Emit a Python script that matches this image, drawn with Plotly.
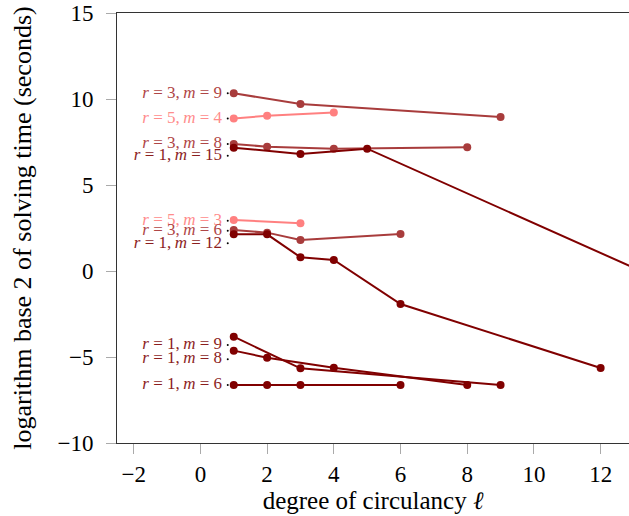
import plotly.graph_objects as go

# ---- data ----
series_names = ["r3m9", "r5m4", "r3m8", "r1m15", "r5m3", "r3m6", "r1m12", "r1m9", "r1m8", "r1m6"]
series_r = [3, 5, 3, 1, 5, 3, 1, 1, 1, 1]
series_m = [9, 4, 8, 15, 3, 6, 12, 9, 8, 6]
x_r3m9 = [1, 3, 9];            y_r3m9 = [10.33, 9.71, 8.95]
x_r5m4 = [1, 2, 4];            y_r5m4 = [8.86, 9.03, 9.22]
x_r3m8 = [1, 2, 4, 8];         y_r3m8 = [7.38, 7.23, 7.11, 7.20]
x_r1m15 = [1, 3, 5, 15];       y_r1m15 = [7.17, 6.80, 7.11, -1.55]
x_r5m3 = [1, 3];               y_r5m3 = [2.97, 2.77]
x_r3m6 = [1, 2, 3, 6];         y_r3m6 = [2.38, 2.23, 1.80, 2.15]
x_r1m12 = [1, 2, 3, 4, 6, 12]; y_r1m12 = [2.13, 2.13, 0.80, 0.64, -1.92, -5.64]
x_r1m9 = [1, 3, 9];            y_r1m9 = [-3.82, -5.66, -6.63]
x_r1m8 = [1, 2, 4, 8];         y_r1m8 = [-4.63, -5.04, -5.62, -6.63]
x_r1m6 = [1, 2, 3, 6];         y_r1m6 = [-6.63, -6.63, -6.63, -6.63]
label_y = [10.33, 8.86, 7.38, 6.70, 2.92, 2.34, 1.61, -4.30, -5.13, -6.63]
label_x = 0.82
x_ticks = [-2, 0, 2, 4, 6, 8, 10, 12]
y_ticks = [-10, -5, 0, 5, 10, 15]

xs = [x_r3m9, x_r5m4, x_r3m8, x_r1m15, x_r5m3, x_r3m6, x_r1m12, x_r1m9, x_r1m8, x_r1m6]
ys = [y_r3m9, y_r5m4, y_r3m8, y_r1m15, y_r5m3, y_r3m6, y_r1m12, y_r1m9, y_r1m8, y_r1m6]

colors = {1: "rgb(128,0,0)", 3: "rgb(168,60,60)", 5: "rgb(255,128,128)"}
label_colors = {1: "rgb(140,30,30)", 3: "rgb(175,70,70)", 5: "rgb(255,140,140)"}
FONT = "Liberation Serif"

def minus(v):
    return ("\u2212" + str(-v)) if v < 0 else str(v)

fig = go.Figure()
order = sorted(range(len(series_names)), key=lambda i: -series_r[i])
for i in order:
    c = colors[series_r[i]]
    fig.add_trace(go.Scatter(
        x=xs[i], y=ys[i], mode="lines+markers",
        line=dict(color=c, width=2),
        marker=dict(color=c, size=8),
        showlegend=False, hoverinfo="skip"))

sp = "\u00a0"
for i in range(len(series_names)):
    r, m = series_r[i], series_m[i]
    fig.add_trace(go.Scatter(
        x=[label_x], y=[label_y[i]], mode="markers+text",
        marker=dict(color="black", size=2),
        text=[f"<i>r</i>{sp}={sp}{r},\u2009<i>m</i>{sp}={sp}{m}\u2009"],
        textposition="middle left",
        textfont=dict(family=FONT, size=17, color=label_colors[r]),
        showlegend=False, hoverinfo="skip", cliponaxis=False))

fig.update_layout(
    width=629, height=516,
    margin=dict(l=117, r=0, t=13, b=73),
    paper_bgcolor="white", plot_bgcolor="white",
    font=dict(family=FONT, color="black"),
    xaxis=dict(range=[-2.5, 12.85], tickvals=x_ticks,
               ticktext=[minus(v) for v in x_ticks], automargin=False,
               showgrid=False, zeroline=False,
               showline=True, linecolor="#333", linewidth=1, mirror=True,
               ticks="outside", ticklen=10, tickcolor="#aaa", tickwidth=1,
               ticklabelstandoff=0,
               tickfont=dict(size=23, family=FONT),
               title=dict(text="degree of circulancy <i>ℓ</i>", font=dict(size=25, family=FONT), standoff=0)),
    yaxis=dict(range=[-10, 15], tickvals=y_ticks,
               ticktext=[minus(v) for v in y_ticks], automargin=False,
               showgrid=False, zeroline=False,
               showline=True, linecolor="#333", linewidth=1,
               ticks="outside", ticklen=10, tickcolor="#aaa", tickwidth=1,
               ticklabelstandoff=8,
               tickfont=dict(size=23, family=FONT),
               title=dict(text="logarithm base 2 of solving time (seconds)", font=dict(size=26, family=FONT), standoff=18)),
)

fig.write_html("out.html", config={"responsive": False, "displayModeBar": False},
               post_script="document.body.style.margin='0';document.body.style.overflow='hidden';")
